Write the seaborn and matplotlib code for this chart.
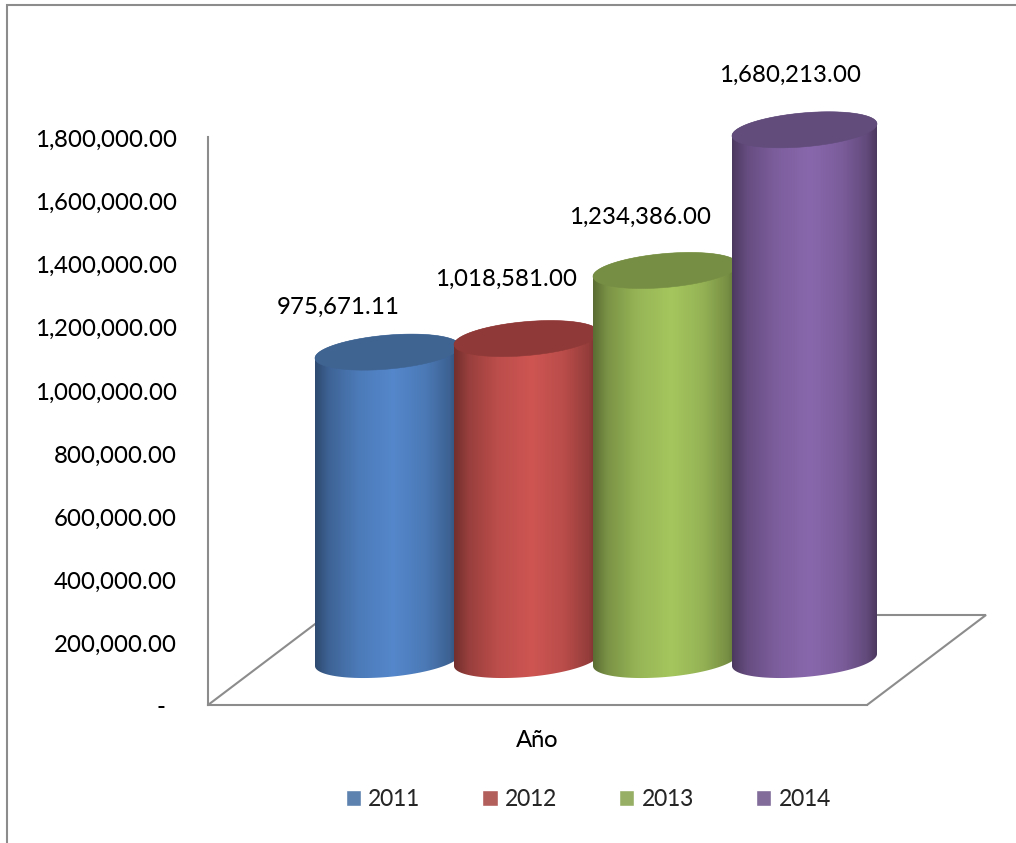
import numpy as np
import pandas as pd
import seaborn as sns
import matplotlib
matplotlib.use("Agg")
import matplotlib.pyplot as plt
from matplotlib.colors import to_rgb
from matplotlib.lines import Line2D
from matplotlib.patches import PathPatch
from matplotlib.path import Path
from matplotlib.transforms import ScaledTranslation

# Chart values
years = ["2011", "2012", "2013", "2014"]
amounts = [975671.11, 1018581.00, 1234386.00, 1680213.00]
axis_ticks = [0, 200000, 400000, 600000, 800000, 1000000, 1200000, 1400000, 1600000, 1800000]

# Series colours: legend swatch, lit side of the cylinder, top cap
swatch_colors = ["#4F81BD", "#C0504D", "#9BBB59", "#8064A2"]
lit_colors = ["#5487CB", "#CE5552", "#A5C65E", "#8967AC"]
cap_colors = ["#3F6492", "#8F3A38", "#768E44", "#614C7B"]

# Label displacement from the top of each cylinder, in pixels
label_shift = [(-49, 45), (-20, 59), (-25, 53), (-14, 54)]

W, H = 1016, 843
GREY = "#8C8C8C"
FONT = 17.5
LEGEND_FONT = 16.9

sns.set_theme(style="white")
plt.rcParams["font.family"] = ["Lato", "DejaVu Sans"]
plt.rcParams["text.hinting"] = "no_autohint"
plt.rcParams["text.hinting_factor"] = 1

fig = plt.figure(figsize=(W / 100, H / 100), dpi=100)
ax_left, ax_right, ax_top, ax_bottom = 208, 867, 137, 705
ax = fig.add_axes([ax_left / W, 1 - ax_bottom / H,
                   (ax_right - ax_left) / W, (ax_bottom - ax_top) / H])

df = pd.DataFrame({"Año": years, "Monto": amounts})
px_per_cat = 139.0
sns.barplot(data=df, x="Año", y="Monto", hue="Año", palette=swatch_colors,
            dodge=False, width=145 / px_per_cat, ax=ax, legend=True)

ax.set_xlim((ax_left - 387.5) / px_per_cat, (ax_right - 387.5) / px_per_cat)
ax.set_ylim(0, 1800000)

units_per_px = 1800000 / (ax_bottom - ax_top)
lift = 45 * units_per_px  # cylinders stand inside the floor, above the front edge


def ellipse_points(cx, cy, half_w, t):
    """Tilted ring of a cylinder, in data coordinates."""
    x = half_w * np.cos(t)
    y = 6 * np.cos(t) + 17 * np.sin(t)
    return cx + x / px_per_cat, cy + y * units_per_px


def shade_ramp(lit):
    """Horizontal light falloff across the cylinder."""
    stops = [0.0, 0.10, 0.30, 0.54, 0.76, 0.93, 1.0]
    gains = [0.55, 0.74, 0.91, 1.0, 0.90, 0.72, 0.55]
    pos = np.linspace(0, 1, 256)
    gain = np.interp(pos, stops, gains)
    return (gain[:, None] * np.array(to_rgb(lit)))[None, :, :]


# Replace the flat bars with shaded cylinders of the same position and height
bars = [c[0] for c in ax.containers]
for i, bar in enumerate(bars):
    bar.set_visible(False)
    x0, width, value = bar.get_x(), bar.get_width(), bar.get_height()
    cx = x0 + width / 2
    half_w = width * px_per_cat / 2
    top = value + lift

    lower = np.linspace(np.pi, 2 * np.pi, 80)
    bx, by = ellipse_points(cx, lift, half_w, lower)
    rx, ry = ellipse_points(cx, top, half_w, np.linspace(0, np.pi, 80))
    body = np.column_stack([np.r_[bx, rx], np.r_[by, ry]])
    clip = PathPatch(Path(np.vstack([body, body[0]]), closed=True),
                     transform=ax.transData, fc="none", ec="none")
    ax.add_patch(clip)
    img = ax.imshow(shade_ramp(lit_colors[i]), aspect="auto", interpolation="bilinear",
                    extent=(x0, x0 + width, 0, top + 40 * units_per_px),
                    origin="lower", zorder=3 + i)
    img.set_clip_path(clip)
    img.set_clip_box(fig.bbox)

    ex, ey = ellipse_points(cx, top, half_w, np.linspace(0, 2 * np.pi, 160))
    ax.fill(ex, ey, color=cap_colors[i], lw=0.4, zorder=3 + i, clip_on=False)

    dx, dy = label_shift[i]
    ax.annotate(f"{value:,.2f}", xy=(cx, top), xytext=(dx * 0.72, dy * 0.72),
                textcoords="offset points", ha="center", va="center",
                fontsize=FONT, color="black", zorder=20, annotation_clip=False)

ax.set_xlim((ax_left - 387.5) / px_per_cat, (ax_right - 387.5) / px_per_cat)
ax.set_ylim(0, 1800000)

# Axis walls and floor
for name in ("top", "right"):
    ax.spines[name].set_visible(False)
for name in ("left", "bottom"):
    ax.spines[name].set_color(GREY)
    ax.spines[name].set_linewidth(1.5)

depth_x = 119 / (ax_right - ax_left)
depth_y = 90 / (ax_bottom - ax_top)
floor_x = [0, depth_x, 1 + depth_x, 1]
floor_y = [0, depth_y, depth_y, 0]
ax.plot(floor_x, floor_y, transform=ax.transAxes, color=GREY, lw=1.5,
        clip_on=False, zorder=1, solid_joinstyle="miter")

ax.set_yticks(axis_ticks)
ax.set_yticklabels([f"{v:,.2f}" if v else "-" for v in axis_ticks])
ax.tick_params(axis="y", length=0, pad=22.3, labelsize=FONT, labelcolor="black")
ax.set_xticks([])
ax.set_ylabel("")
ax.set_xlabel("Año", fontsize=FONT, color="black", labelpad=18)

# Number labels sit just below their gridline height; the zero mark stays level
# and further from the axis
tick_labels = ax.get_yticklabels()
for lab in tick_labels[1:]:
    lab.set_transform(lab.get_transform()
                      + ScaledTranslation(0, -1 / 72, fig.dpi_scale_trans))
tick_labels[0].set_transform(tick_labels[0].get_transform()
                             + ScaledTranslation(-8.6 / 72, 0, fig.dpi_scale_trans))

sns.move_legend(ax, "center", bbox_to_anchor=(588 / W, 1 - 800 / H),
                bbox_transform=fig.transFigure, ncol=4, frameon=False, title=None,
                fontsize=LEGEND_FONT, handlelength=0.64, handleheight=0.64,
                handletextpad=0.3, columnspacing=2.68, borderpad=0)

# Chart area border, cut off at the right and bottom edges
fig.add_artist(Line2D([7 / W, 7 / W, 1], [0, 1 - 5 / H, 1 - 5 / H],
                      transform=fig.transFigure, color=GREY, lw=1.5,
                      solid_joinstyle="miter"))

fig.savefig("out.png", dpi=100, facecolor="white")
